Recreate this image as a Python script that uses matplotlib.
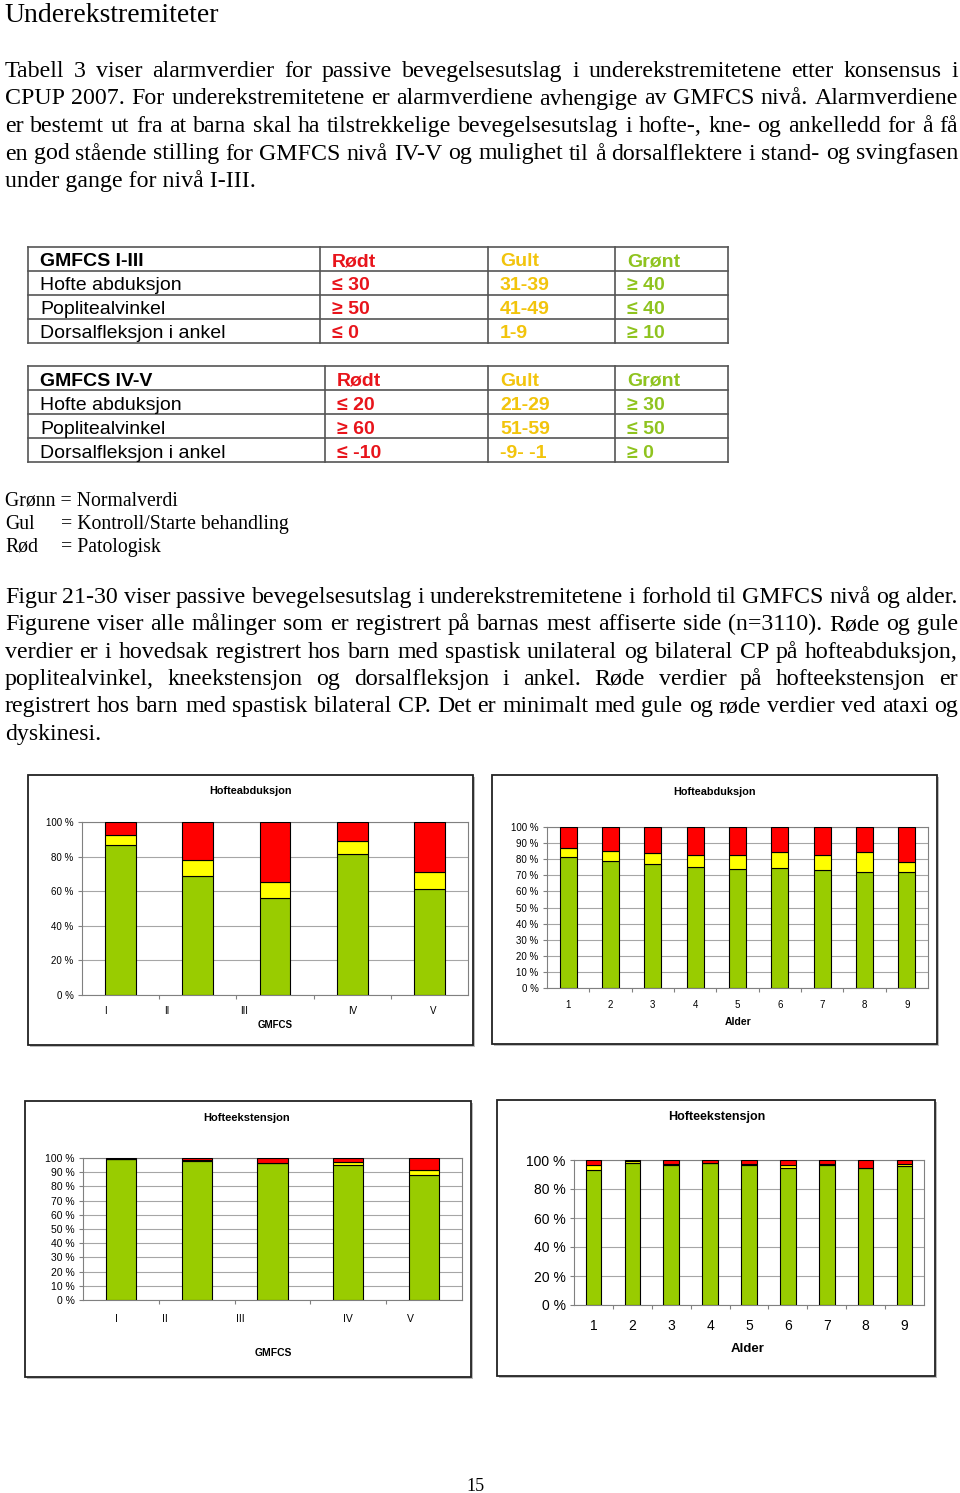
import matplotlib
matplotlib.use("Agg")
import matplotlib.pyplot as plt
from matplotlib.lines import Line2D
from matplotlib.patches import Rectangle

SERIF = ["Liberation Serif", "DejaVu Serif"]
SANS = ["Liberation Sans", "DejaVu Sans"]

W, H = 960, 1493

# ---- text content ----
heading = "Underekstremiteter"
para1 = [
    "Tabell 3 viser alarmverdier for passive bevegelsesutslag i underekstremitetene etter konsensus i",
    "CPUP 2007. For underekstremitetene er alarmverdiene avhengige av GMFCS nivå. Alarmverdiene",
    "er bestemt ut fra at barna skal ha tilstrekkelige bevegelsesutslag i hofte-, kne- og ankelledd for å få",
    "en god stående stilling for GMFCS nivå IV-V og mulighet til å dorsalflektere i stand- og svingfasen",
    "under gange for nivå I-III.",
]
para2 = [
    "Figur 21-30 viser passive bevegelsesutslag i underekstremitetene i forhold til GMFCS nivå og alder.",
    "Figurene viser alle målinger som er registrert på barnas mest affiserte side (n=3110). Røde og gule",
    "verdier er i hovedsak registrert hos barn med spastisk unilateral og bilateral CP på hofteabduksjon,",
    "poplitealvinkel, kneekstensjon og dorsalfleksjon i ankel. Røde verdier på hofteekstensjon er",
    "registrert hos barn med spastisk bilateral CP. Det er minimalt med gule og røde verdier ved ataxi og",
    "dyskinesi.",
]
legend_names = ["Grønn", "Gul", "Rød"]
legend_texts = ["Normalverdi", "Kontroll/Starte behandling", "Patologisk"]

# ---- tables ----
table_rows = ["Hofte abduksjon", "Poplitealvinkel", "Dorsalfleksjon i ankel"]
table_cols = ["Rødt", "Gult", "Grønt"]
t1_red = ["≤ 30", "≥ 50", "≤ 0"]
t1_yellow = ["31-39", "41-49", "1-9"]
t1_green = ["≥ 40", "≤ 40", "≥ 10"]
t2_red = ["≤ 20", "≥ 60", "≤ -10"]
t2_yellow = ["21-29", "51-59", "-9- -1"]
t2_green = ["≥ 30", "≤ 50", "≥ 0"]

# ---- chart data (percent of measurements) ----
gmfcs = ["I", "II", "III", "IV", "V"]
alder = ["1", "2", "3", "4", "5", "6", "7", "8", "9"]

abd_gmfcs_green = [86.5, 68.7, 55.8, 81.3, 61.2]
abd_gmfcs_yellow = [6.2, 9.2, 9.6, 7.7, 10.0]
abd_gmfcs_red = [7.3, 22.1, 34.6, 11.0, 28.8]

abd_alder_green = [81.6, 78.9, 77.0, 75.2, 74.1, 74.7, 73.3, 71.8, 71.8]
abd_alder_yellow = [5.1, 6.0, 6.6, 7.4, 8.5, 9.6, 9.3, 12.5, 6.7]
abd_alder_red = [13.3, 15.1, 16.4, 17.4, 17.4, 15.7, 17.4, 15.7, 21.5]

ext_gmfcs_green = [99.0, 98.0, 96.2, 95.1, 87.8]
ext_gmfcs_yellow = [0.2, 0.3, 0.3, 2.3, 3.7]
ext_gmfcs_red = [0.8, 1.7, 3.5, 2.6, 8.5]

ext_alder_green = [93.3, 97.9, 96.8, 97.7, 96.8, 94.7, 96.8, 94.2, 95.6]
ext_alder_yellow = [3.5, 1.6, 0.2, 0.3, 0.2, 2.1, 0.3, 0.0, 1.9]
ext_alder_red = [3.2, 0.5, 3.0, 2.0, 3.0, 3.2, 2.9, 5.8, 2.5]

GREEN, YELLOW, RED = "#99cc00", "#ffff00", "#ff0000"
T_RED, T_YELLOW, T_GREEN = "#e8141b", "#f2c40c", "#8fc31f"

fig = plt.figure(figsize=(W / 100, H / 100), dpi=100)
R = fig.canvas.get_renderer()


def fx(x):
    return x / W


def fy(y):
    return 1 - y / H


def hline(x0, x1, y, **kw):
    fig.add_artist(Line2D([fx(x0), fx(x1)], [fy(y), fy(y)], transform=fig.transFigure, **kw))


def vline(x, y0, y1, **kw):
    fig.add_artist(Line2D([fx(x), fx(x)], [fy(y0), fy(y1)], transform=fig.transFigure, **kw))


def justify(line, y, size, x0=5, x1=958):
    words = line.split()
    texts = [fig.text(0, fy(y), w, fontsize=size, family=SERIF, va="baseline") for w in words]
    widths = [t.get_window_extent(renderer=R).width for t in texts]
    gap = (x1 - x0 - sum(widths)) / (len(words) - 1)
    x = x0
    for t, w in zip(texts, widths):
        t.set_x(fx(x))
        x += w + gap


BODY = 17.2

# heading + paragraph 1
fig.text(fx(4), fy(22), heading, fontsize=20, family=SERIF, va="baseline")
for i, line in enumerate(para1):
    y = 77 + i * 27.5
    if i < len(para1) - 1:
        justify(line, y, BODY)
    else:
        fig.text(fx(5), fy(y), line, fontsize=BODY, family=SERIF, va="baseline")


# tables
def draw_table(top, title, reds, yellows, greens, red_x):
    cols = [28, red_x - 12, 488, 615, 728]
    rh = 24
    for k in range(5):
        hline(28, 728, top + k * rh, color="#555555", lw=1.2)
    for x in cols:
        vline(x, top, top + 4 * rh, color="#555555", lw=1.2)
    tx = [40, red_x, 500, 627]
    colors = [T_RED, T_YELLOW, T_GREEN]
    yc = top + rh / 2 + 1
    fs = 14
    fig.text(fx(tx[0]), fy(yc), title, fontsize=fs, family=SANS, weight="bold", va="center_baseline")
    for c, name in enumerate(table_cols):
        fig.text(fx(tx[c + 1]), fy(yc), name, fontsize=fs, family=SANS, weight="bold",
                 color=colors[c], va="center_baseline")
    for r, lab in enumerate(table_rows):
        yc = top + (r + 1) * rh + rh / 2 + 1
        fig.text(fx(tx[0]), fy(yc), lab, fontsize=fs, family=SANS, va="center_baseline")
        for c, vals in enumerate([reds, yellows, greens]):
            fig.text(fx(tx[c + 1]), fy(yc), vals[r], fontsize=fs, family=SANS, weight="bold",
                     color=colors[c], va="center_baseline")


draw_table(247, "GMFCS I-III", t1_red, t1_yellow, t1_green, 332)
draw_table(366, "GMFCS IV-V", t2_red, t2_yellow, t2_green, 337)

# legend lines
for i, (n, t) in enumerate(zip(legend_names, legend_texts)):
    y = 506 + i * 23
    if i == 0:
        fig.text(fx(5), fy(y), n + " = " + t, fontsize=14.2, family=SERIF, va="baseline")
    else:
        fig.text(fx(5), fy(y), n, fontsize=14.2, family=SERIF, va="baseline")
        fig.text(fx(61), fy(y), "= " + t, fontsize=14.2, family=SERIF, va="baseline")

# paragraph 2
for i, line in enumerate(para2):
    y = 603 + i * 27.3
    if i < len(para2) - 1:
        justify(line, y, BODY)
    else:
        fig.text(fx(5), fy(y), line, fontsize=BODY, family=SERIF, va="baseline")

fig.text(fx(475), fy(1491), "15", fontsize=13, family=SERIF, ha="center", va="baseline")


# charts
def chart(frame, plot, title, title_xy, title_size, cats, green, yellow, red, ystep, tsize,
          xlabel, xlabel_xy, xl_size, label_pos=None, xpad=6):
    l, t, r, b = frame
    fig.add_artist(Rectangle((fx(l) + 0.002, fy(b) - 0.0013), (r - l) / W, (b - t) / H,
                             transform=fig.transFigure, facecolor="#bbbbbb", edgecolor="none",
                             zorder=-3))
    fig.add_artist(Rectangle((fx(l), fy(b)), (r - l) / W, (b - t) / H, transform=fig.transFigure,
                             facecolor="white", edgecolor="#222222", lw=1.3, zorder=-2))
    pl, pt, pr, pb = plot
    ax = fig.add_axes([fx(pl), fy(pb), (pr - pl) / W, (pb - pt) / H])
    ax.set_zorder(2)
    ax.patch.set_alpha(0)
    x = list(range(len(cats)))
    kw = dict(width=0.4, edgecolor="black", linewidth=0.8, zorder=3)
    ax.bar(x, green, color=GREEN, **kw)
    base2 = [g + y for g, y in zip(green, yellow)]
    ax.bar(x, yellow, bottom=green, color=YELLOW, **kw)
    ax.bar(x, red, bottom=base2, color=RED, **kw)
    ax.set_xlim(-0.5, len(cats) - 0.5)
    ax.set_ylim(0, 100)
    yt = list(range(0, 101, ystep))
    ax.set_yticks(yt)
    ax.set_yticklabels([f"{v} %" for v in yt], fontsize=tsize, family=SANS)
    ax.yaxis.grid(True, color="#a6a6a6", lw=0.8, zorder=0)
    ax.set_axisbelow(True)
    ax.tick_params(axis="y", length=3, width=0.8, color="#808080", pad=3)
    ax.set_xticks([k + 0.5 for k in x[:-1]])
    ax.set_xticklabels([])
    ax.tick_params(axis="x", which="major", length=3, width=0.8, color="#808080", direction="out")
    pos = label_pos if label_pos is not None else x
    ax.set_xticks(pos, minor=True)
    ax.set_xticklabels(cats, minor=True, fontsize=tsize, family=SANS)
    ax.tick_params(axis="x", which="minor", length=0, pad=xpad)
    for s in ax.spines.values():
        s.set_color("#808080")
        s.set_linewidth(0.8)
    fig.text(fx(title_xy[0]), fy(title_xy[1]), title, fontsize=title_size, family=SANS,
             weight="bold", ha="center", va="center")
    fig.text(fx(xlabel_xy[0]), fy(xlabel_xy[1]), xlabel, fontsize=xl_size, family=SANS,
             weight="bold", ha="center", va="center")
    return ax


chart((28, 775, 473, 1045), (82, 822, 468, 995), "Hofteabduksjon", (250, 791), 7.8,
      gmfcs, abd_gmfcs_green, abd_gmfcs_yellow, abd_gmfcs_red, 20, 7,
      "GMFCS", (275, 1025), 7, label_pos=[-0.2, 0.6, 1.6, 3.0, 4.05], xpad=8)
chart((492, 775, 937, 1044), (547, 827, 928, 988), "Hofteabduksjon", (714, 792), 7.8,
      alder, abd_alder_green, abd_alder_yellow, abd_alder_red, 10, 7,
      "Alder", (738, 1022), 7.5, xpad=9)
chart((25, 1101, 471, 1377), (83, 1158, 462, 1300), "Hofteekstensjon", (247, 1118), 8,
      gmfcs, ext_gmfcs_green, ext_gmfcs_yellow, ext_gmfcs_red, 10, 7.5,
      "GMFCS", (273, 1353), 7.5, label_pos=[-0.06, 0.58, 1.58, 2.99, 3.82], xpad=10)
chart((497, 1100, 935, 1376), (574, 1160, 924, 1305), "Hofteekstensjon", (717, 1117), 9,
      alder, ext_alder_green, ext_alder_yellow, ext_alder_red, 20, 10,
      "Alder", (748, 1349), 9.5, xpad=10)

fig.savefig("out.png", dpi=100)
